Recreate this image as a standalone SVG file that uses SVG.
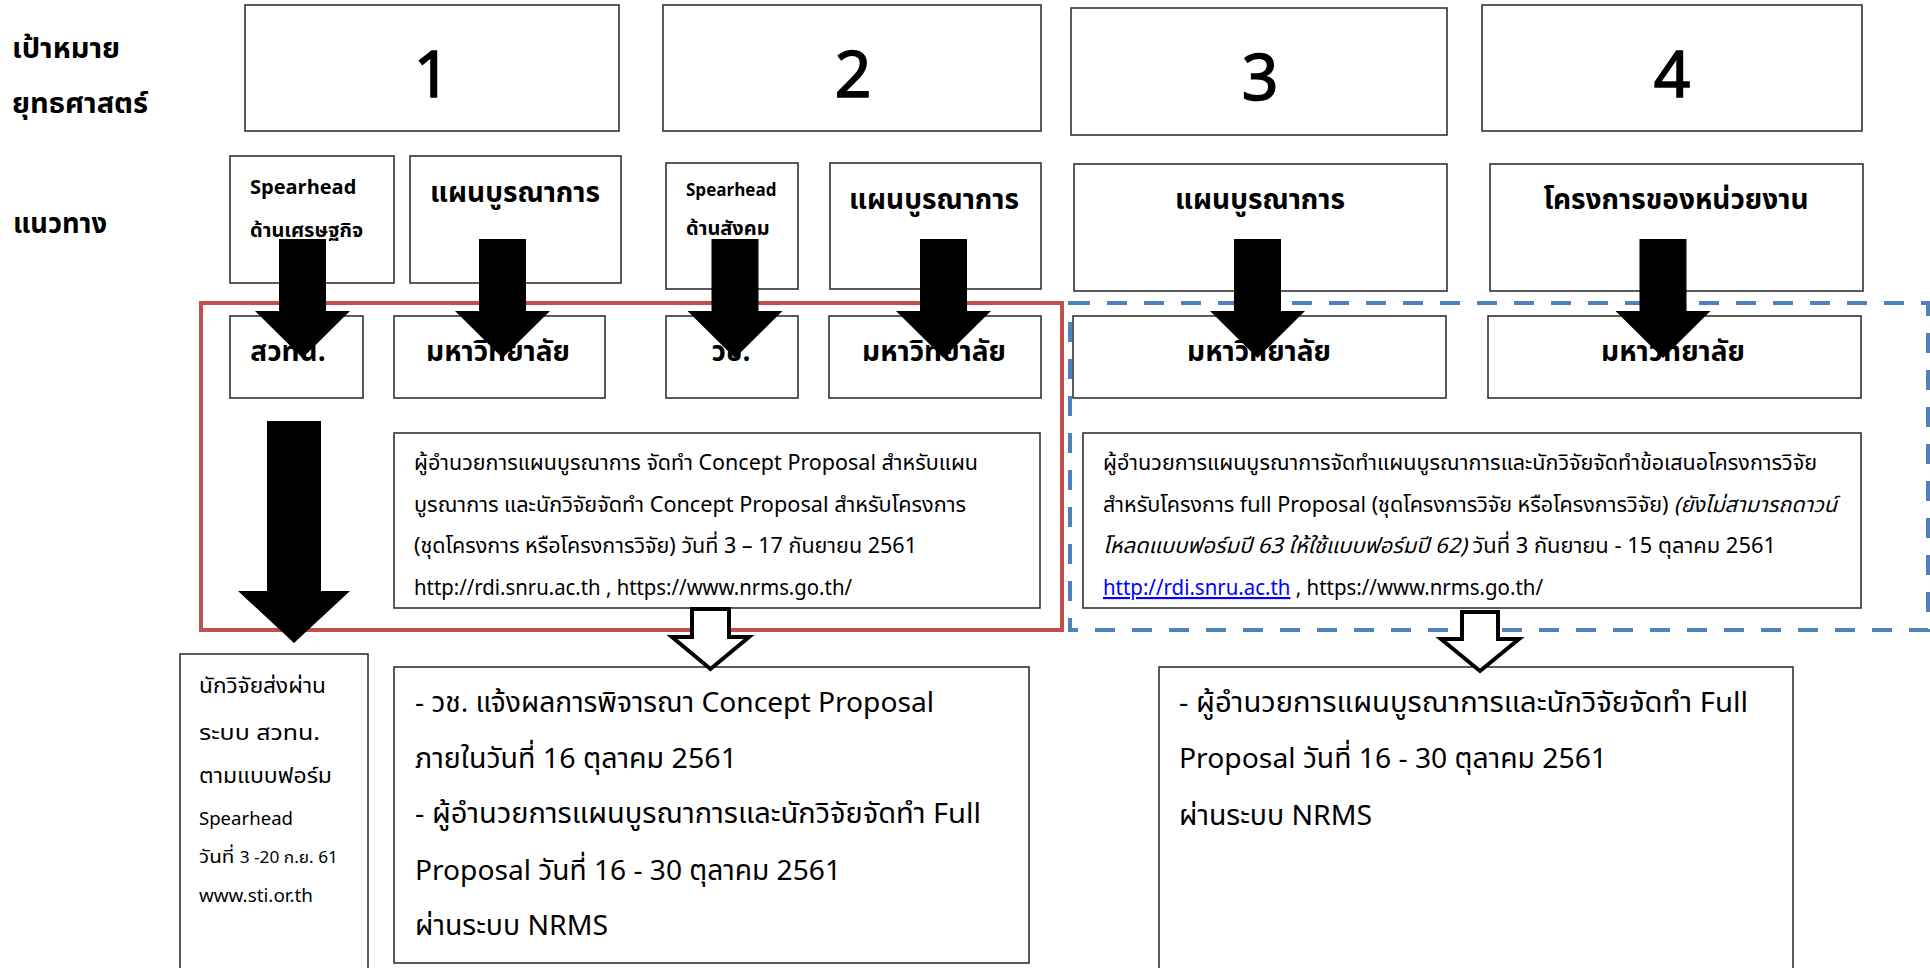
<svg xmlns="http://www.w3.org/2000/svg" width="1930" height="968" viewBox="0 0 1930 968">
<defs>
<style>
text{font-family:"Noto Sans Thai","Noto Sans","DejaVu Sans",sans-serif;fill:#000}
.box{fill:#fff;stroke:#333;stroke-width:1.6}
.lbl{font-size:29px;font-weight:bold}
.num{font-size:64px;text-anchor:middle;stroke:#000;stroke-width:1.5}
.ttl{font-size:28px;font-weight:bold;text-anchor:middle}
.sp{font-size:20px;font-weight:bold}
.body{font-size:21.5px}
.big{font-size:28px}
.sm1{font-size:22px}
.sm2{font-size:18.5px}
.blk{fill:#000;stroke:none}
.hol{fill:#fff;stroke:#000;stroke-width:4;stroke-linejoin:miter}
.link{fill:#0000ff;text-decoration:underline}
</style>
</defs>
<rect width="1930" height="968" fill="#fff"/>

<g id="side-labels">
<text class="lbl" x="12" y="58">เป้าหมาย</text>
<text class="lbl" x="12" y="113">ยุทธศาสตร์</text>
<text class="lbl" x="13" y="233" textLength="94" lengthAdjust="spacingAndGlyphs">แนวทาง</text>
</g>

<g id="goal-1"><rect class="box" x="245" y="5" width="374" height="126"/><text class="num" x="432" y="97">1</text></g>
<g id="goal-2"><rect class="box" x="663" y="5" width="378" height="126"/><text class="num" x="853" y="97">2</text></g>
<g id="goal-3"><rect class="box" x="1071" y="8" width="376" height="127"/><text class="num" x="1260" y="100">3</text></g>
<g id="goal-4"><rect class="box" x="1482" y="5" width="380" height="126"/><text class="num" x="1672" y="97">4</text></g>

<g id="spearhead-econ"><rect class="box" x="230" y="156" width="164" height="127"/>
<text class="sp" x="250" y="194">Spearhead</text><text class="sp" x="250" y="237">ด้านเศรษฐกิจ</text></g>
<g id="plan-1"><rect class="box" x="410" y="156" width="211" height="127"/><text class="ttl" x="515" y="202">แผนบูรณาการ</text></g>
<g id="spearhead-social"><rect class="box" x="666" y="163" width="132" height="126"/>
<text class="sp" x="686" y="196" style="font-size:17px">Spearhead</text><text class="sp" x="686" y="235">ด้านสังคม</text></g>
<g id="plan-2"><rect class="box" x="830" y="163" width="211" height="126"/><text class="ttl" x="934" y="209">แผนบูรณาการ</text></g>
<g id="plan-3"><rect class="box" x="1074" y="164" width="373" height="127"/><text class="ttl" x="1260" y="209">แผนบูรณาการ</text></g>
<g id="agency-projects"><rect class="box" x="1490" y="164" width="373" height="127"/><text class="ttl" x="1676" y="209">โครงการของหน่วยงาน</text></g>

<g id="group-red"><rect x="201" y="303" width="861" height="327" fill="none" stroke="#C0504D" stroke-width="4"/></g>
<g id="group-blue"><rect x="1070" y="303" width="858" height="327" fill="none" stroke="#4F81BD" stroke-width="4" stroke-dasharray="20 17"/></g>

<g id="tsri"><rect class="box" x="230" y="316" width="133" height="82"/><text class="ttl" x="288" y="361">สวทน.</text></g>
<g id="univ-1"><rect class="box" x="394" y="316" width="211" height="82"/><text class="ttl" x="498" y="361">มหาวิทยาลัย</text></g>
<g id="nrct"><rect class="box" x="666" y="316" width="132" height="82"/><text class="ttl" x="731" y="361">วช.</text></g>
<g id="univ-2"><rect class="box" x="829" y="316" width="212" height="82"/><text class="ttl" x="934" y="361">มหาวิทยาลัย</text></g>
<g id="univ-3"><rect class="box" x="1073" y="316" width="373" height="82"/><text class="ttl" x="1259" y="361">มหาวิทยาลัย</text></g>
<g id="univ-4"><rect class="box" x="1488" y="316" width="373" height="82"/><text class="ttl" x="1673" y="361">มหาวิทยาลัย</text></g>

<g id="concept-text"><rect class="box" x="394" y="433" width="646" height="175"/>
<text class="body" x="414" y="470" textLength="564" lengthAdjust="spacingAndGlyphs">ผู้อำนวยการแผนบูรณาการ จัดทำ Concept Proposal สำหรับแผน</text>
<text class="body" x="414" y="512" textLength="552" lengthAdjust="spacingAndGlyphs">บูรณาการ และนักวิจัยจัดทำ Concept Proposal สำหรับโครงการ</text>
<text class="body" x="414" y="553" textLength="503" lengthAdjust="spacingAndGlyphs">(ชุดโครงการ หรือโครงการวิจัย) วันที่ 3 – 17 กันยายน 2561</text>
<text class="body" x="414" y="595" textLength="438" lengthAdjust="spacingAndGlyphs">http://rdi.snru.ac.th , https://www.nrms.go.th/</text>
</g>

<g id="full-text"><rect class="box" x="1083" y="433" width="778" height="175"/>
<text class="body" x="1103" y="470" textLength="714" lengthAdjust="spacingAndGlyphs">ผู้อำนวยการแผนบูรณาการจัดทำแผนบูรณาการและนักวิจัยจัดทำข้อเสนอโครงการวิจัย</text>
<text class="body" x="1103" y="512" textLength="734" lengthAdjust="spacingAndGlyphs">สำหรับโครงการ full Proposal (ชุดโครงการวิจัย หรือโครงการวิจัย) <tspan font-style="italic">(ยังไม่สามารถดาวน์</tspan></text>
<text class="body" x="1103" y="553" textLength="673" lengthAdjust="spacingAndGlyphs"><tspan font-style="italic">โหลดแบบฟอร์มปี 63 ให้ใช้แบบฟอร์มปี 62)</tspan> วันที่ 3 กันยายน - 15 ตุลาคม 2561</text>
<text class="body" x="1103" y="595" textLength="440" lengthAdjust="spacingAndGlyphs"><tspan class="link">http://rdi.snru.ac.th</tspan> , https://www.nrms.go.th/</text>
</g>

<g id="researcher-submit"><rect class="box" x="180" y="654" width="188" height="330"/>
<text class="sm1" x="199" y="693" textLength="127" lengthAdjust="spacingAndGlyphs">นักวิจัยส่งผ่าน</text>
<text class="sm1" x="199" y="740" textLength="121" lengthAdjust="spacingAndGlyphs">ระบบ สวทน.</text>
<text class="sm1" x="199" y="783" textLength="133" lengthAdjust="spacingAndGlyphs">ตามแบบฟอร์ม</text>
<text class="sm2" x="199" y="825" textLength="94" lengthAdjust="spacingAndGlyphs">Spearhead</text>
<text class="sm2" x="199" y="863" textLength="139" lengthAdjust="spacingAndGlyphs">วันที่ <tspan style="font-size:15.5px">3 -20 ก.ย. 61</tspan></text>
<text class="sm2" x="199" y="902" textLength="114" lengthAdjust="spacingAndGlyphs">www.sti.or.th</text>
</g>

<g id="concept-result"><rect class="box" x="394" y="667" width="635" height="296"/>
<text class="big" x="415" y="712" textLength="519" lengthAdjust="spacingAndGlyphs">- วช. แจ้งผลการพิจารณา Concept Proposal</text>
<text class="big" x="415" y="768" textLength="322" lengthAdjust="spacingAndGlyphs">ภายในวันที่ 16 ตุลาคม 2561</text>
<text class="big" x="415" y="823" textLength="566" lengthAdjust="spacingAndGlyphs">- ผู้อำนวยการแผนบูรณาการและนักวิจัยจัดทำ Full</text>
<text class="big" x="415" y="880" textLength="426" lengthAdjust="spacingAndGlyphs">Proposal วันที่ 16 - 30 ตุลาคม 2561</text>
<text class="big" x="415" y="935" textLength="193" lengthAdjust="spacingAndGlyphs">ผ่านระบบ NRMS</text>
</g>

<g id="full-proposal"><rect class="box" x="1159" y="667" width="634" height="330"/>
<text class="big" x="1179" y="712" textLength="569" lengthAdjust="spacingAndGlyphs">- ผู้อำนวยการแผนบูรณาการและนักวิจัยจัดทำ Full</text>
<text class="big" x="1179" y="768" textLength="428" lengthAdjust="spacingAndGlyphs">Proposal วันที่ 16 - 30 ตุลาคม 2561</text>
<text class="big" x="1179" y="825" textLength="193" lengthAdjust="spacingAndGlyphs">ผ่านระบบ NRMS</text>
</g>

<g id="connectors">
<polygon class="blk" points="279,239 326,239 326,311 350,311 302.5,358 255,311 279,311"/>
<polygon class="blk" points="479,239 526,239 526,311 550,311 502.5,358 455,311 479,311"/>
<polygon class="blk" points="711.5,239 758.5,239 758.5,311 782.5,311 735,358 687.5,311 711.5,311"/>
<polygon class="blk" points="920,239 967,239 967,311 991,311 943.5,358 896,311 920,311"/>
<polygon class="blk" points="1234,239 1281,239 1281,311 1305,311 1257.5,358 1210,311 1234,311"/>
<polygon class="blk" points="1639.5,239 1686.5,239 1686.5,311 1710.5,311 1663,358 1615.5,311 1639.5,311"/>
<polygon class="blk" points="267,421 321,421 321,591 350,591 294,643 238,591 267,591"/>
<polygon class="hol" points="692,609 729,609 729,637 749,637 710.5,669 672,637 692,637"/>
<polygon class="hol" points="1462,612 1498,612 1498,639 1519,639 1480,671 1441,639 1462,639"/>
</g>
</svg>
